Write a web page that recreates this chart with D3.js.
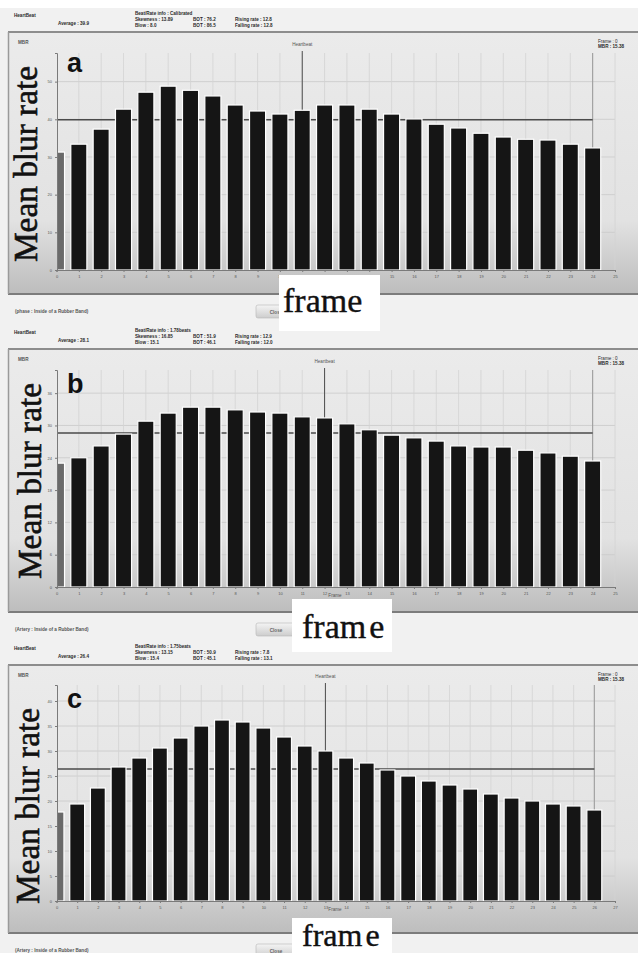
<!DOCTYPE html>
<html>
<head>
<meta charset="utf-8">
<script src="https://cdn.jsdelivr.net/npm/d3@7"></script>
<style>
  body { margin: 0; background: #fff; }
  svg { display: block; }
  .tiny { font-family: "Liberation Sans", Arial, sans-serif; font-size: 4.6px; font-weight: bold; fill: #2a2a2a; }
  .axis text { font-family: "Liberation Sans", Arial, sans-serif; font-size: 4px; fill: #555; }
  .axis path, .axis line { stroke: #7a7a7a; }
</style>
</head>
<body>
<div id="chart"></div>
<script>
// mean blur rate per frame
const blur_a = [31.3, 33.4, 37.4, 42.7, 47.2, 48.8, 47.7, 46.2, 43.8, 42.2, 41.4, 42.4, 43.8,
                43.8, 42.7, 41.4, 40.1, 38.7, 37.7, 36.3, 35.3, 34.7, 34.5, 33.4, 32.4];
const blur_b = [23.0, 24.0, 26.2, 28.4, 30.8, 32.3, 33.4, 33.4, 32.9, 32.5, 32.3, 31.6, 31.4,
                30.3, 29.2, 28.2, 27.7, 27.1, 26.2, 26.0, 26.0, 25.4, 24.9, 24.3, 23.4];
const blur_c = [17.8, 19.4, 22.6, 26.8, 28.6, 30.6, 32.6, 35.0, 36.2, 35.8, 34.6, 32.8, 31.0, 30.0,
                28.6, 27.6, 26.2, 25.0, 24.0, 23.2, 22.4, 21.4, 20.6, 20.0, 19.4, 19.0, 18.2];

const averages = [39.9, 28.6, 26.4];
const cursorFrames = [11, 12, 13];
const panelLetters = ["a", "b", "c"];
const yTickSteps = [10, 6, 5];
const yMaxes = [57.6, 40.3, 43.2];

const phaseNotes = ["(phase : Inside of a Rubber Band)", "(Artery : Inside of a Rubber Band)", "(Artery : Inside of a Rubber Band)"];

const W = 638, H = 953;

const svg = d3.select("#chart").append("svg")
    .attr("width", W)
    .attr("height", H);

const defs = svg.append("defs");
const boxGrad = defs.append("linearGradient").attr("id", "boxGrad")
    .attr("x1", 0).attr("y1", 0).attr("x2", 0).attr("y2", 1);
boxGrad.append("stop").attr("offset", 0).attr("stop-color", "#ebebeb");
boxGrad.append("stop").attr("offset", 0.72).attr("stop-color", "#e2e2e2");
boxGrad.append("stop").attr("offset", 0.86).attr("stop-color", "#cfcfcf");
boxGrad.append("stop").attr("offset", 1).attr("stop-color", "#bdbdbd");

const btnGrad = defs.append("linearGradient").attr("id", "btnGrad")
    .attr("x1", 0).attr("y1", 0).attr("x2", 0).attr("y2", 1);
btnGrad.append("stop").attr("offset", 0).attr("stop-color", "#f4f4f4");
btnGrad.append("stop").attr("offset", 1).attr("stop-color", "#cdcdcd");

// page background (light grey screen)
svg.append("rect").attr("x", 0).attr("y", 8).attr("width", W).attr("height", H - 8).attr("fill", "#f1f1f1");

const layouts = [
    {top: 32, bottom: 294, plotTop: 53, baseline: 270, labelX: 37, labelY: 164,
     head: 8, frameBox: [279, 275, 101, 56], frameBase: 312, frameGap: 0, showFrame: false},
    {top: 349, bottom: 612, plotTop: 370, baseline: 587, labelX: 41, labelY: 481,
     head: 325, frameBox: [292, 599, 100, 53], frameBase: 638, frameGap: 3, showFrame: true},
    {top: 665, bottom: 933, plotTop: 685, baseline: 901, labelX: 39, labelY: 806,
     head: 641, frameBox: [292, 918, 100, 35], frameBase: 946, frameGap: 3, showFrame: true}
];

const headerInfo = [
    {avg: "Average : 39.9", col1: ["Beat/Rate info : Calibrated", "Skewness : 13.89", "Blow : 8.0"],
     col2: ["BOT : 76.2", "BOT : 86.5"], col3: ["Rising rate : 12.8", "Falling rate : 12.8"]},
    {avg: "Average : 28.1", col1: ["Beat/Rate info : 1.78beats", "Skewness : 16.85", "Blow : 15.1"],
     col2: ["BOT : 51.9", "BOT : 46.1"], col3: ["Rising rate : 12.9", "Falling rate : 12.0"]},
    {avg: "Average : 26.4", col1: ["Beat/Rate info : 1.75beats", "Skewness : 13.15", "Blow : 15.4"],
     col2: ["BOT : 50.9", "BOT : 45.1"], col3: ["Rising rate : 7.8", "Falling rate : 13.1"]}
];

const allBlur = [blur_a, blur_b, blur_c];

allBlur.forEach((values, p) => drawPanel(values, p));

// notes and buttons under each panel
layouts.forEach((L, p) => {
    const y0 = L.bottom;
    svg.append("text").attr("class", "tiny").attr("x", 15).attr("y", y0 + 19)
        .style("fill", "#555").text(phaseNotes[p]);
    svg.append("rect").attr("x", 256).attr("y", y0 + 11).attr("width", 40).attr("height", 13)
        .attr("rx", 2).attr("fill", "url(#btnGrad)").attr("stroke", "#b5b5b5").attr("stroke-width", 0.6);
    svg.append("text").attr("class", "tiny").attr("x", 276).attr("y", y0 + 19.5)
        .attr("text-anchor", "middle").style("fill", "#666").text("Close");
});

// "frame" labels pasted on top in white boxes
layouts.forEach((L, p) => {
    const [bx, by, bw, bh] = L.frameBox;
    svg.append("rect").attr("x", bx).attr("y", by).attr("width", bw).attr("height", bh).attr("fill", "#fff");
    const t = svg.append("text")
        .attr("x", bx + 4 + (p > 0 ? 6 : 0))
        .attr("y", L.frameBase)
        .style("font-family", "'Liberation Serif', 'Times New Roman', serif")
        .style("font-size", p === 2 ? "32px" : "34px")
        .style("fill", "#111")
        .style("stroke", "#111")
        .style("stroke-width", 0.4);
    t.append("tspan").text("fram");
    t.append("tspan").attr("dx", L.frameGap).text("e");
});

function drawPanel(values, p) {
    const L = layouts[p];
    const info = headerInfo[p];
    const N = values.length;
    const g = svg.append("g");

    // header texts above the box
    const hy = L.head;
    g.append("text").attr("class", "tiny").attr("x", 14).attr("y", hy + 9).text("HeartBeat");
    g.append("text").attr("class", "tiny").attr("x", 58).attr("y", hy + 17).text(info.avg);
    info.col1.forEach((s, i) => g.append("text").attr("class", "tiny")
        .attr("x", 135).attr("y", hy + 7 + i * 6).text(s));
    info.col2.forEach((s, i) => g.append("text").attr("class", "tiny")
        .attr("x", 193).attr("y", hy + 13 + i * 6).text(s));
    info.col3.forEach((s, i) => g.append("text").attr("class", "tiny")
        .attr("x", 235).attr("y", hy + 13 + i * 6).text(s));

    // chart box
    g.append("rect").attr("x", 8).attr("y", L.top).attr("width", W - 8).attr("height", L.bottom - L.top)
        .attr("fill", "url(#boxGrad)");
    g.append("line").attr("x1", 8).attr("x2", W).attr("y1", L.top).attr("y2", L.top)
        .attr("stroke", "#8d8d8d").attr("stroke-width", 2);
    g.append("line").attr("x1", 8).attr("x2", W).attr("y1", L.bottom).attr("y2", L.bottom)
        .attr("stroke", "#7c7c7c").attr("stroke-width", 2);
    g.append("line").attr("x1", 8.5).attr("x2", 8.5).attr("y1", L.top).attr("y2", L.bottom)
        .attr("stroke", "#9a9a9a").attr("stroke-width", 1.5);

    // scales
    const xScale = d3.scaleLinear().domain([0, N]).range([56.5, 615]);
    const yScale = d3.scaleLinear().domain([0, yMaxes[p]]).range([L.baseline, L.plotTop]);
    const step = yTickSteps[p];
    const yTicks = d3.range(0, yMaxes[p], step);
    const xTicks = d3.range(0, N + 1);
    const bw = (xScale(1) - xScale(0)) * 0.72;

    // grid
    g.selectAll(".hgrid").data(yTicks.slice(1)).enter().append("line")
        .attr("x1", 57).attr("x2", 615)
        .attr("y1", d => yScale(d)).attr("y2", d => yScale(d))
        .attr("stroke", "#c9c9c9").attr("stroke-width", 0.8);
    g.selectAll(".vgrid").data(xTicks.slice(1)).enter().append("line")
        .attr("x1", d => xScale(d)).attr("x2", d => xScale(d))
        .attr("y1", L.plotTop).attr("y2", L.baseline)
        .attr("stroke", "#d3d3d3").attr("stroke-width", 0.8);
    g.append("line")
        .attr("x1", xScale(N - 1)).attr("x2", xScale(N - 1))
        .attr("y1", L.plotTop).attr("y2", L.baseline)
        .attr("stroke", "#9a9a9a").attr("stroke-width", 1);

    // cursor line
    g.append("line")
        .attr("x1", xScale(cursorFrames[p])).attr("x2", xScale(cursorFrames[p]))
        .attr("y1", L.plotTop - 2).attr("y2", L.baseline)
        .attr("stroke", "#4d4d4d").attr("stroke-width", 1);
    g.append("text").attr("class", "tiny").style("font-weight", "normal").style("fill", "#555")
        .attr("x", xScale(cursorFrames[p])).attr("y", L.plotTop - 7)
        .attr("text-anchor", "middle").text("Heartbeat");

    // average line
    g.append("line")
        .attr("x1", 57).attr("x2", xScale(N - 1))
        .attr("y1", yScale(averages[p])).attr("y2", yScale(averages[p]))
        .attr("stroke", "#4a4a4a").attr("stroke-width", 1.6);

    // bars, clipped at the y axis
    const clipId = "clip" + p;
    defs.append("clipPath").attr("id", clipId).append("rect")
        .attr("x", 57.5).attr("y", L.plotTop - 5).attr("width", 570).attr("height", L.baseline - L.plotTop + 5);

    g.append("g").attr("clip-path", `url(#${clipId})`)
        .selectAll("rect").data(values).enter().append("rect")
        .attr("x", (d, i) => xScale(i) - bw / 2)
        .attr("width", bw)
        .attr("y", d => yScale(d))
        .attr("height", d => L.baseline - yScale(d))
        .attr("fill", (d, i) => i === 0 ? "#6a6a6a" : "#151515")
        .attr("stroke", "#fff")
        .attr("stroke-width", 1.2);

    // axes
    g.append("g").attr("class", "axis")
        .attr("transform", "translate(57,0)")
        .call(d3.axisLeft(yScale).tickValues(yTicks).tickSize(2).tickPadding(3));
    g.append("g").attr("class", "axis")
        .attr("transform", `translate(0,${L.baseline})`)
        .call(d3.axisBottom(xScale).tickValues(xTicks).tickSize(2).tickPadding(3));
    if (L.showFrame) {
        g.append("text").attr("class", "tiny").style("font-weight", "normal").style("fill", "#555")
            .attr("x", 335).attr("y", L.baseline + 10).attr("text-anchor", "middle").text("Frame");
    }

    // small corner captions
    g.append("text").attr("class", "tiny").style("fill", "#555")
        .attr("x", 18).attr("y", L.top + 12).text("MBR");
    g.append("text").attr("class", "tiny").style("font-weight", "normal")
        .attr("x", 598).attr("y", L.top + 11).text("Frame : 0");
    g.append("text").attr("class", "tiny")
        .attr("x", 598).attr("y", L.top + 16).text("MBR : 15.38");

    // panel letter
    g.append("text")
        .attr("x", 67).attr("y", L.plotTop + (p === 0 ? 19 : 23))
        .style("font-family", "'Liberation Sans', Arial, sans-serif")
        .style("font-weight", "bold")
        .style("font-size", "27px")
        .style("fill", "#111")
        .text(panelLetters[p]);

    // y label
    g.append("text")
        .attr("transform", `translate(${L.labelX},${L.labelY}) rotate(-90)`)
        .attr("text-anchor", "middle")
        .attr("textLength", 196)
        .attr("lengthAdjust", "spacingAndGlyphs")
        .style("font-family", "'Liberation Serif', 'Times New Roman', serif")
        .style("font-size", "34px")
        .style("fill", "#111")
        .style("stroke", "#111")
        .style("stroke-width", 0.6)
        .text("Mean blur rate");
}
</script>
</body>
</html>
